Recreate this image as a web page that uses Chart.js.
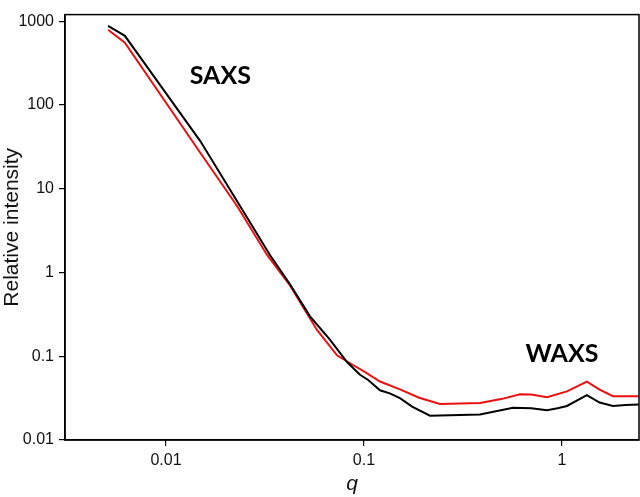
<!DOCTYPE html>
<html>
<head>
<meta charset="utf-8">
<script src="https://cdn.jsdelivr.net/npm/chart.js@4"></script>
<style>
  body { margin: 0; background: #fff; }
  #wrap { width: 640px; height: 497px; }
</style>
</head>
<body>
<div id="wrap"><canvas id="myChart"></canvas></div>
<script>
// black curve
let qBlack = [0.0051, 0.0062, 0.0149, 0.0237, 0.0335, 0.0423, 0.0534, 0.0673, 0.0821, 0.0955,
              0.105, 0.1205, 0.135, 0.152, 0.175, 0.2155, 0.3855, 0.566, 0.70, 0.84,
              0.95, 1.06, 1.336, 1.55, 1.81, 2.10, 2.45];
let iBlack = [880, 669, 37.1, 6.18, 1.62, 0.725, 0.300, 0.158, 0.0852, 0.0601,
              0.052, 0.0392, 0.036, 0.0316, 0.025, 0.0195, 0.0202, 0.0242, 0.0240, 0.0226,
              0.0240, 0.0255, 0.0343, 0.0280, 0.0255, 0.0262, 0.0266];

// red curve
let qRed = [0.0051, 0.0062, 0.0149, 0.0229, 0.0324, 0.0423, 0.0579, 0.0731, 0.088, 0.100,
            0.1205, 0.152, 0.19, 0.242, 0.3855, 0.50, 0.614, 0.70, 0.84, 1.06,
            1.336, 1.55, 1.81, 2.45];
let iRed = [790, 555, 26.9, 6.18, 1.62, 0.70, 0.206, 0.1027, 0.0786, 0.066,
            0.0499, 0.0402, 0.032, 0.0269, 0.0277, 0.031, 0.0352, 0.0350, 0.0325, 0.0381,
            0.0499, 0.040, 0.0334, 0.0334];

let xTicks = [0.01, 0.1, 1];
let yTicks = [0.01, 0.1, 1, 10, 100, 1000];

// text labels: [text, q, intensity]
let notes = [["SAXS", 0.0188, 223], ["WAXS", 1.0, 0.108]];

function toPoints(xs, ys) {
    return xs.map((x, i) => ({ x: x, y: ys[i] }));
}

const frameAndNotes = {
    id: 'frameAndNotes',
    afterDatasetsDraw(chart) {
        const ctx = chart.ctx;
        const a = chart.chartArea;
        ctx.save();
        ctx.strokeStyle = '#000';
        ctx.lineWidth = 1.5;
        ctx.strokeRect(a.left, a.top, a.right - a.left, a.bottom - a.top);
        ctx.fillStyle = '#000';
        ctx.font = 'bold 25px Lato';
        ctx.textAlign = 'center';
        ctx.textBaseline = 'middle';
        notes.forEach(n => {
            ctx.fillText(n[0], chart.scales.x.getPixelForValue(n[1]), chart.scales.y.getPixelForValue(n[2]));
        });
        ctx.restore();
    }
};

let ctx = document.getElementById('myChart').getContext('2d');
new Chart(ctx, {
    type: 'scatter',
    data: {
        datasets: [{
            data: toPoints(qBlack, iBlack),
            borderColor: '#000',
            borderWidth: 2,
            showLine: true,
            pointRadius: 0,
            fill: false
        }, {
            data: toPoints(qRed, iRed),
            borderColor: '#e81010',
            borderWidth: 2,
            showLine: true,
            pointRadius: 0,
            fill: false
        }]
    },
    options: {
        responsive: true,
        maintainAspectRatio: false,
        animation: false,
        layout: { padding: { top: 2, right: 1, left: 0, bottom: 0 } },
        plugins: { legend: { display: false }, tooltip: { enabled: false } },
        scales: {
            x: {
                type: 'logarithmic',
                min: 0.00309,
                max: 2.45,
                afterFit(s) { s.height = 57; },
                afterBuildTicks(s) { s.ticks = xTicks.map(v => ({ value: v })); },
                border: { color: '#000', width: 1.5 },
                grid: { drawOnChartArea: false, drawTicks: true, tickLength: 6, color: '#000', lineWidth: 1.2 },
                ticks: {
                    font: { family: 'Liberation Sans', size: 16 },
                    color: '#111',
                    padding: 5,
                    maxRotation: 0,
                    autoSkip: false,
                    callback: v => String(v)
                },
                title: {
                    display: true,
                    text: 'q',
                    font: { family: 'Liberation Sans', size: 21, style: 'italic' },
                    color: '#111',
                    padding: 0
                }
            },
            y: {
                type: 'logarithmic',
                min: 0.01,
                max: 1200,
                afterFit(s) { s.width = 65; },
                afterBuildTicks(s) { s.ticks = yTicks.map(v => ({ value: v })); },
                border: { color: '#000', width: 1.5 },
                grid: { drawOnChartArea: false, drawTicks: true, tickLength: 6, color: '#000', lineWidth: 1.2 },
                ticks: {
                    font: { family: 'Liberation Sans', size: 16 },
                    color: '#111',
                    padding: 5,
                    autoSkip: false,
                    callback: v => String(v)
                },
                title: {
                    display: true,
                    text: 'Relative intensity',
                    font: { family: 'Liberation Sans', size: 21 },
                    color: '#111',
                    padding: 0
                }
            }
        }
    },
    plugins: [frameAndNotes]
});
</script>
</body>
</html>
